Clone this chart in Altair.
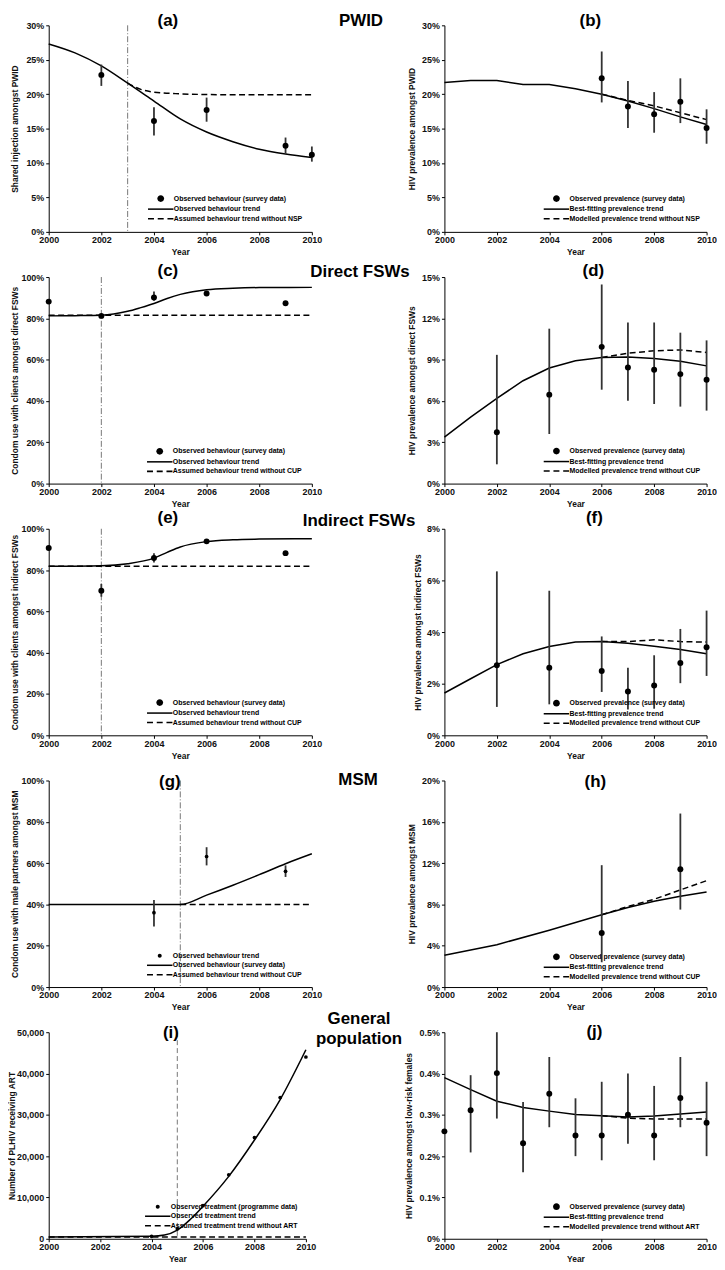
import altair as alt
import pandas as pd

FONT = "Liberation Sans"
YEARS = [2000, 2001, 2002, 2003, 2004, 2005, 2006, 2007, 2008, 2009, 2010]
X_TICKS = [2000, 2002, 2004, 2006, 2008, 2010]

# ---------------- (a) PWID shared injection ----------------
a_obs_year = [2002, 2004, 2006, 2009, 2010]
a_obs_val = [22.8, 16.1, 17.7, 12.5, 11.2]
a_obs_lo = [21.2, 14.0, 16.0, 11.3, 10.2]
a_obs_hi = [24.3, 18.1, 19.5, 13.7, 12.4]
a_fit_year = YEARS
a_fit_val = [27.3, 26.0, 24.1, 21.6, 19.0, 16.4, 14.5, 13.1, 12.0, 11.3, 10.8]
a_cf_year = [2003, 2003.5, 2004, 2005, 2006, 2008, 2010]
a_cf_val = [21.6, 20.7, 20.3, 20.05, 19.95, 19.9, 19.9]

# ---------------- (b) PWID HIV prevalence ----------------
b_obs_year = [2006, 2007, 2008, 2009, 2010]
b_obs_val = [22.3, 18.2, 17.1, 18.9, 15.1]
b_obs_lo = [18.8, 15.1, 14.4, 15.8, 12.8]
b_obs_hi = [26.2, 21.9, 20.3, 22.3, 17.8]
b_fit_year = YEARS
b_fit_val = [21.7, 22.0, 22.0, 21.4, 21.4, 20.8, 20.0, 19.0, 17.9, 16.7, 15.6]
b_cf_year = [2006, 2007, 2008, 2009, 2010]
b_cf_val = [20.0, 19.1, 18.3, 17.3, 16.3]

# ---------------- (c) Direct FSWs condom use ----------------
c_obs_year = [2000, 2002, 2004, 2006, 2009]
c_obs_val = [88.1, 81.2, 90.1, 92.0, 87.3]
c_obs_lo = [87.3, 80.4, 88.5, 91.2, 86.5]
c_obs_hi = [88.9, 82.0, 93.0, 92.8, 88.1]
c_fit_year = [2000, 2001, 2002, 2003, 2003.5, 2004, 2004.5, 2005, 2006, 2007, 2008, 2010]
c_fit_val = [81.2, 81.3, 81.5, 83.4, 85.2, 87.2, 89.6, 91.6, 93.9, 94.6, 94.9, 95.0]
c_cf_year = [2000, 2010]
c_cf_val = [81.5, 81.5]

# ---------------- (d) Direct FSWs HIV prevalence ----------------
d_obs_year = [2002, 2004, 2006, 2007, 2008, 2009, 2010]
d_obs_val = [3.73, 6.46, 9.93, 8.43, 8.27, 7.95, 7.54]
d_obs_lo = [1.4, 3.6, 6.82, 6.02, 5.78, 5.59, 5.3]
d_obs_hi = [9.35, 11.25, 14.46, 11.7, 11.7, 10.96, 10.4]
d_fit_year = YEARS
d_fit_val = [3.37, 4.82, 6.19, 7.47, 8.39, 8.92, 9.16, 9.2, 9.08, 8.89, 8.55]
d_cf_year = [2006, 2007, 2008, 2009, 2010]
d_cf_val = [9.16, 9.47, 9.64, 9.71, 9.52]

# ---------------- (e) Indirect FSWs condom use ----------------
e_obs_year = [2000, 2002, 2004, 2006, 2009]
e_obs_val = [90.7, 70.0, 85.8, 93.9, 88.2]
e_obs_lo = [89.9, 67.1, 83.7, 93.1, 87.4]
e_obs_hi = [91.5, 73.3, 88.1, 94.7, 89.0]
e_fit_year = [2000, 2002, 2003, 2004, 2004.5, 2005, 2006, 2007, 2008, 2010]
e_fit_val = [81.8, 82.1, 83.1, 85.8, 88.6, 91.2, 93.8, 94.7, 95.0, 95.2]
e_cf_year = [2000, 2010]
e_cf_val = [81.8, 81.8]

# ---------------- (f) Indirect FSWs HIV prevalence ----------------
f_obs_year = [2002, 2004, 2006, 2007, 2008, 2009, 2010]
f_obs_val = [2.71, 2.62, 2.49, 1.70, 1.93, 2.80, 3.41]
f_obs_lo = [1.1, 1.2, 1.68, 1.0, 1.03, 2.02, 2.3]
f_obs_hi = [6.35, 5.6, 3.83, 2.62, 3.1, 4.12, 4.83]
f_fit_year = YEARS
f_fit_val = [1.64, 2.19, 2.74, 3.16, 3.44, 3.61, 3.63, 3.57, 3.45, 3.32, 3.16]
f_cf_year = [2006, 2007, 2008, 2009, 2010]
f_cf_val = [3.63, 3.63, 3.70, 3.63, 3.61]

# ---------------- (g) MSM condom use ----------------
g_obs_year = [2004, 2006, 2009]
g_obs_val = [36.0, 63.2, 56.0]
g_obs_lo = [29.3, 58.9, 53.3]
g_obs_hi = [42.1, 67.7, 58.9]
g_fit_year = [2000, 2005, 2006, 2007, 2008, 2009, 2010]
g_fit_val = [40.0, 40.0, 44.5, 49.3, 54.4, 59.7, 64.5]
g_cf_year = [2005, 2010]
g_cf_val = [40.0, 40.0]

# ---------------- (h) MSM HIV prevalence ----------------
h_obs_year = [2006, 2009]
h_obs_val = [5.23, 11.4]
h_obs_lo = [2.4, 7.5]
h_obs_hi = [11.8, 16.8]
h_fit_year = [2000, 2002, 2004, 2006, 2007, 2008, 2009, 2010]
h_fit_val = [3.08, 4.1, 5.5, 7.0, 7.7, 8.3, 8.8, 9.2]
h_cf_year = [2006, 2007, 2008, 2009, 2010]
h_cf_val = [7.0, 7.8, 8.5, 9.4, 10.3]

# ---------------- (i) General population ART ----------------
i_obs_year = [2004, 2005, 2006, 2007, 2008, 2009, 2010]
i_obs_val = [600, 2400, 8000, 15500, 24500, 34200, 44000]
i_obs_lo = [600, 2400, 8000, 15500, 24500, 34200, 44000]
i_obs_hi = [600, 2400, 8000, 15500, 24500, 34200, 44000]
i_fit_year = [2000, 2004, 2004.5, 2005, 2005.5, 2006, 2007, 2008, 2009, 2010]
i_fit_val = [400, 600, 900, 2100, 4650, 7870, 15100, 23900, 33700, 45750]
i_cf_year = [2000, 2010]
i_cf_val = [450, 450]

# ---------------- (j) General population HIV prevalence ----------------
j_obs_year = YEARS
j_obs_val = [0.26, 0.311, 0.401, 0.231, 0.351, 0.25, 0.25, 0.30, 0.25, 0.341, 0.281]
j_obs_lo = [0.26, 0.209, 0.291, 0.161, 0.27, 0.20, 0.19, 0.23, 0.19, 0.27, 0.20]
j_obs_hi = [0.26, 0.396, 0.50, 0.331, 0.44, 0.34, 0.38, 0.40, 0.37, 0.44, 0.38]
j_fit_year = YEARS
j_fit_val = [0.39, 0.361, 0.333, 0.318, 0.309, 0.301, 0.298, 0.295, 0.297, 0.302, 0.307]
j_cf_year = [2006, 2007, 2008, 2009, 2010]
j_cf_val = [0.298, 0.292, 0.29, 0.29, 0.29]

# legend texts
LEG_A = ["Observed behaviour (survey data)", "Observed behaviour trend", "Assumed behaviour trend without NSP"]
LEG_B = ["Observed prevalence (survey data)", "Best-fitting prevalence trend", "Modelled prevalence trend without NSP"]
LEG_C = ["Observed behaviour (survey data)", "Observed behaviour trend", "Assumed behaviour trend without CUP"]
LEG_D = ["Observed prevalence (survey data)", "Best-fitting prevalence trend", "Modelled prevalence trend without CUP"]
LEG_G = ["Observed behaviour trend", "Observed behaviour (survey data)", "Assumed behaviour trend without CUP"]
LEG_I = ["Observed treatment (programme data)", "Observed treatment trend", "Assumed treatment trend without ART"]
LEG_J = ["Observed prevalence (survey data)", "Best-fitting prevalence trend", "Modelled prevalence trend without ART"]

# legend symbol shapes: filled custom paths (unit square scaled by symbol size)
P_DOT = "M1.1,0A0.85,0.85 0 1,0 2.8,0A0.85,0.85 0 1,0 1.1,0Z"
P_SMALLDOT = "M1.45,0A0.5,0.5 0 1,0 2.45,0A0.5,0.5 0 1,0 1.45,0Z"
P_SOLID = "M-1.25,-0.19L5.15,-0.19L5.15,0.19L-1.25,0.19Z"
P_DASH = ("M-1.25,-0.19L0.25,-0.19L0.25,0.19L-1.25,0.19Z"
          "M1.2,-0.19L2.7,-0.19L2.7,0.19L1.2,0.19Z"
          "M3.65,-0.19L5.15,-0.19L5.15,0.19L3.65,0.19Z")

PCT = "datum.value + '%'"
NUM = "format(datum.value, ',')"


def panel(obs_year, obs_val, obs_lo, obs_hi, fit_year, fit_val, cf_year, cf_val,
          ymax, yticks, ytitle, ylabel, leg_labels, dot_path, label, label_xy,
          title_x, width, interp, leg_xy, vline=None, vdash=None, dot_size=36,
          groups=()):
    xenc = alt.X("year:Q",
                 scale=alt.Scale(domain=[2000, 2010], nice=False, zero=False),
                 axis=alt.Axis(values=X_TICKS, format="d", title="Year"))
    yaxis = alt.Axis(values=yticks, title=ytitle, titleX=title_x, titleBaseline="middle",
                     labelExpr=PCT if ylabel == "pct" else NUM)
    yscale = alt.Scale(domain=[0, ymax], nice=False, zero=True)
    yenc = alt.Y("value:Q", scale=yscale, axis=yaxis)

    layers = []
    if vline is not None:
        layers.append(
            alt.Chart(pd.DataFrame({"year": [vline]}))
            .mark_rule(color="#777777", strokeWidth=1, strokeDash=vdash)
            .encode(x=xenc)
        )
    df_cf = pd.DataFrame({"year": cf_year, "value": cf_val})
    df_fit = pd.DataFrame({"year": fit_year, "value": fit_val})
    layers.append(
        alt.Chart(df_cf).mark_line(color="black", strokeWidth=1.5, strokeDash=[6, 3.5],
                                   interpolate=interp).encode(x=xenc, y=yenc)
    )
    layers.append(
        alt.Chart(df_fit).mark_line(color="black", strokeWidth=1.5,
                                    interpolate=interp).encode(x=xenc, y=yenc)
    )
    df_obs = pd.DataFrame({"year": obs_year, "value": obs_val, "lo": obs_lo, "hi": obs_hi})
    layers.append(
        alt.Chart(df_obs).mark_rule(color="#333333", strokeWidth=1.8)
        .encode(x=xenc, y=alt.Y("lo:Q", scale=yscale, axis=yaxis), y2="hi:Q")
    )
    layers.append(
        alt.Chart(df_obs).mark_circle(color="black", size=dot_size, opacity=1)
        .encode(x=xenc, y=yenc)
    )
    # legend (dummy invisible layer, native legend with filled custom symbols)
    layers.append(
        alt.Chart(pd.DataFrame({"entry": leg_labels}))
        .mark_point(filled=True, color="black", opacity=0)
        .encode(shape=alt.Shape(
            "entry:N",
            scale=alt.Scale(domain=leg_labels, range=[dot_path, P_SOLID, P_DASH]),
            legend=alt.Legend(title=None, orient="none", legendX=leg_xy[0], legendY=leg_xy[1],
                              symbolSize=64, symbolFillColor="black",
                              symbolStrokeWidth=0, symbolOpacity=1,
                              labelFont=FONT, labelFontSize=7, labelFontWeight="bold",
                              labelColor="black", labelOffset=17, rowPadding=2.6,
                              padding=0, labelLimit=300)))
    )
    # panel label
    layers.append(
        alt.Chart(pd.DataFrame({"t": [label]}))
        .mark_text(font=FONT, fontSize=17, fontWeight="bold", align="center", baseline="middle",
                   color="black")
        .encode(x=alt.value(label_xy[0]), y=alt.value(label_xy[1]), text="t:N")
    )
    for gtext, gx, gy in groups:
        layers.append(
            alt.Chart(pd.DataFrame({"t": [gtext]}))
            .mark_text(font=FONT, fontSize=17, fontWeight="bold", align="center", baseline="middle",
                       color="black")
            .encode(x=alt.value(gx), y=alt.value(gy), text="t:N")
        )
    return alt.layer(*layers).properties(width=width, height=208)


W = 265
pa = panel(a_obs_year, a_obs_val, a_obs_lo, a_obs_hi, a_fit_year, a_fit_val, a_cf_year, a_cf_val,
           30, [0, 5, 10, 15, 20, 25, 30], "Shared injection amongst PWID", "pct", LEG_A, P_DOT,
           "(a)", (120, -4), -34.4, W, "monotone", (101, 170.5), vline=2003, vdash=[6, 2, 1, 2])
pb = panel(b_obs_year, b_obs_val, b_obs_lo, b_obs_hi, b_fit_year, b_fit_val, b_cf_year, b_cf_val,
           30, [0, 5, 10, 15, 20, 25, 30], "HIV prevalence amongst PWID", "pct", LEG_B, P_DOT,
           "(b)", (147, -4), -32.7, 264, "linear", (101, 170.5),
           groups=[("PWID", -84, -4)])
pc = panel(c_obs_year, c_obs_val, c_obs_lo, c_obs_hi, c_fit_year, c_fit_val, c_cf_year, c_cf_val,
           100, [0, 20, 40, 60, 80, 100], "Condom use with clients amongst direct FSWs", "pct", LEG_C,
           P_DOT, "(c)", (120, -6), -34.4, W, "monotone", (100, 171.5), vline=2002, vdash=[6, 2, 1, 2])
pd_ = panel(d_obs_year, d_obs_val, d_obs_lo, d_obs_hi, d_fit_year, d_fit_val, d_cf_year, d_cf_val,
            15, [0, 3, 6, 9, 12, 15], "HIV prevalence amongst direct FSWs", "pct", LEG_D, P_DOT,
            "(d)", (150, -6), -32.7, 264, "linear", (101, 171.2),
            groups=[("Direct FSWs", -85, -5)])
pe = panel(e_obs_year, e_obs_val, e_obs_lo, e_obs_hi, e_fit_year, e_fit_val, e_cf_year, e_cf_val,
           100, [0, 20, 40, 60, 80, 100], "Condom use with clients amongst indirect FSWs", "pct", LEG_C,
           P_DOT, "(e)", (120, -11), -34.4, W, "monotone", (100, 171), vline=2002, vdash=[6, 2, 1, 2])
pf = panel(f_obs_year, f_obs_val, f_obs_lo, f_obs_hi, f_fit_year, f_fit_val, f_cf_year, f_cf_val,
           8, [0, 2, 4, 6, 8], "HIV prevalence amongst indirect FSWs", "pct", LEG_D, P_DOT,
           "(f)", (151, -11), -26.7, 264, "linear", (101, 171.7),
           groups=[("Indirect FSWs", -86, -8)])
pg = panel(g_obs_year, g_obs_val, g_obs_lo, g_obs_hi, g_fit_year, g_fit_val, g_cf_year, g_cf_val,
           100, [0, 20, 40, 60, 80, 100], "Condom use with male partners amongst MSM", "pct", LEG_G,
           P_SMALLDOT, "(g)", (122, 2), -34.4, W, "monotone", (100, 172.5), vline=2005,
           vdash=[6, 2, 1, 2], dot_size=14)
ph = panel(h_obs_year, h_obs_val, h_obs_lo, h_obs_hi, h_fit_year, h_fit_val, h_cf_year, h_cf_val,
           20, [0, 4, 8, 12, 16, 20], "HIV prevalence amongst MSM", "pct", LEG_D, P_DOT,
           "(h)", (152, 2), -32.7, 264, "linear", (101, 173.5),
           groups=[("MSM", -87, 0)])
pi = panel(i_obs_year, i_obs_val, i_obs_lo, i_obs_hi, i_fit_year, i_fit_val, i_cf_year, i_cf_val,
           50000, [0, 10000, 20000, 30000, 40000, 50000], "Number of PLHIV receiving ART", "num",
           LEG_I, P_SMALLDOT, "(i)", (123, 1), -37, 259, "monotone", (98, 171.7), vline=2005,
           vdash=[5, 3], dot_size=14)
pj = panel(j_obs_year, j_obs_val, j_obs_lo, j_obs_hi, j_fit_year, j_fit_val, j_cf_year, j_cf_val,
           0.5, [0, 0.1, 0.2, 0.3, 0.4, 0.5], "HIV prevalence amongst low-risk females", "pct", LEG_J,
           P_DOT, "(j)", (151, 0), -36, 264, "linear", (101, 171.7),
           groups=[("General", -86, -13), ("population", -86, 7)])

chart = (
    alt.concat(pa, pb, pc, pd_, pe, pf, pg, ph, pi, pj, columns=2, bounds="flush",
               spacing={"row": 45.5, "column": 133.5})
    .resolve_scale(shape="independent")
    .properties(padding=0)
    .configure_view(stroke=None)
    .configure_axis(labelFont=FONT, labelFontSize=9, labelFontWeight="bold", labelColor="#111111",
                    titleFont=FONT, titleFontSize=8.5, titleFontWeight="bold", titleColor="#111111",
                    domainColor="black", tickColor="black", tickSize=3, grid=False, labelPadding=2,
                    labelFlush=False)
    .configure_axisX(titlePadding=3, labelPadding=1)
)

chart.save("out.html", embed_options={"renderer": "svg", "actions": False})
